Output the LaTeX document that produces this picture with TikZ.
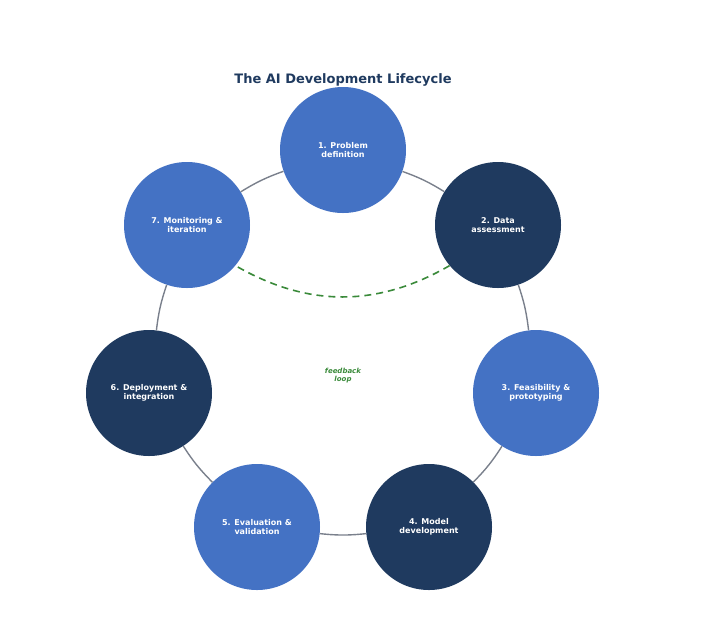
\documentclass[tikz,border=0pt]{standalone}
\usepackage{fontspec}
\setmainfont{DejaVu Sans}
\begin{document}
\definecolor{lightstage}{HTML}{4472C4}
\definecolor{darkstage}{HTML}{1F3A5F}
\definecolor{loopgreen}{HTML}{3A8A3A}
\definecolor{linkgray}{HTML}{7A808C}
\begin{tikzpicture}[x=1pt,y=-1pt]
	\tikzstyle{stage}=[circle, minimum size=126pt, inner sep=0pt, text=white, font=\bfseries\fontsize{8}{9}\selectfont, align=center]
	\tikzstyle{light}=[stage, fill=lightstage]
	\tikzstyle{dark}=[stage, fill=darkstage]
	\tikzstyle{link}=[linkgray, line width=1.4pt]
	\useasboundingbox (0,0) rectangle (709,625);

	\node[font=\bfseries\fontsize{13}{15}\selectfont, text=darkstage] (title) at (343,80) {The AI Development Lifecycle};
	\node[light] (s1) at (343,150) {1. Problem\\definition};
	\node[dark] (s2) at (498,225) {2. Data\\assessment};
	\node[light] (s3) at (536,393) {3. Feasibility \&\\prototyping};
	\node[dark] (s4) at (429,527) {4. Model\\development};
	\node[light] (s5) at (257,527) {5. Evaluation \&\\validation};
	\node[dark] (s6) at (149,393) {6. Deployment \&\\integration};
	\node[light] (s7) at (187,225) {7. Monitoring \&\\iteration};
	\node[font=\bfseries\itshape\fontsize{7}{8}\selectfont, text=loopgreen, align=center] (fb) at (343,376) {feedback\\loop};

	\draw[link] (s1) to[bend left=6] (s2);
	\draw[link] (s2) to[bend left=6] (s3);
	\draw[link] (s3) to[bend left=6] (s4);
	\draw[link] (s4) to[bend left=6] (s5);
	\draw[link] (s5) to[bend left=6] (s6);
	\draw[link] (s6) to[bend left=6] (s7);
	\draw[link] (s7) to[bend left=6] (s1);
	\draw[loopgreen, line width=1.6pt, dash pattern=on 7pt off 5pt] (s2.220) to[bend left=30] (s7.320);
\end{tikzpicture}
\end{document}
